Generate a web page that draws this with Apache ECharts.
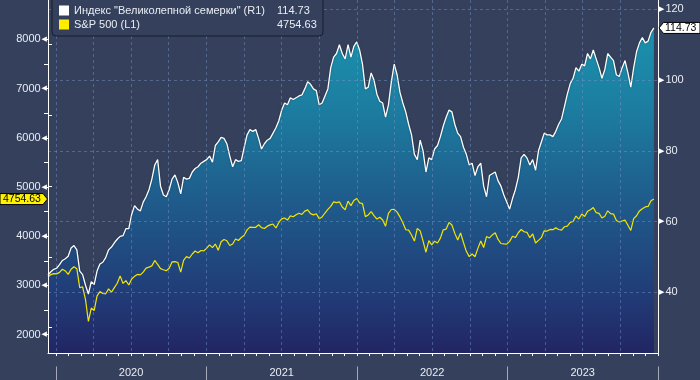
<!DOCTYPE html>
<html><head><meta charset="utf-8">
<script src="https://cdn.jsdelivr.net/npm/echarts@6/dist/echarts.min.js"></script>
<style>html,body{margin:0;padding:0;background:#35415c;}#c{width:700px;height:380px;}</style>
</head><body><div id="c"></div>
<script>
// ---- data ----
const seriesNames = ['Индекс "Великолепной семерки" (R1)', 'S&P 500 (L1)'];
const yearLabels = ['2020', '2021', '2022', '2023'];
const firstWeek = [2019, 11, 13]; // weekly observations (Fridays) starting 13 Dec 2019
const mag7 = [
  44.9, 45.8, 46.5,
  46.8, 47.8, 49.0, 49.5, 50.2, 52.5, 53.2, 52.0, 46.0, 45.0, 42.0, 39.5, 43.0, 42.2, 46.0, 48.0, 48.5, 49.8, 52.0, 52.8, 54.0, 55.0, 55.8, 56.0, 58.0, 58.0, 62.0, 64.5, 63.5, 63.0, 65.5, 67.0, 69.0, 72.0, 76.0, 77.5, 70.0, 67.5, 67.0, 69.0, 72.0, 73.2, 71.0, 67.8, 72.5, 72.0, 72.2, 74.0, 75.0, 75.5, 76.5, 77.0, 77.5,
  78.5, 76.8, 81.5, 82.5, 83.8, 83.5, 82.0, 78.5, 75.5, 77.5, 77.0, 77.2, 81.0, 84.5, 86.0, 85.5, 86.0, 83.5, 80.5, 82.0, 83.0, 83.5, 85.0, 86.5, 88.5, 91.5, 93.5, 93.0, 95.0, 94.5, 95.0, 95.5, 95.8, 97.5, 99.5, 98.8, 97.5, 97.0, 93.0, 93.5, 95.5, 97.5, 103.5, 106.5, 107.5, 110.0, 107.5, 106.0, 110.0, 106.5, 109.5, 110.8,
  108.5, 104.5, 97.5, 98.0, 102.0, 100.0, 96.0, 94.0, 93.5, 89.5, 93.0, 99.5, 104.5, 101.5, 96.5, 93.5, 91.0, 87.5, 84.5, 79.0, 77.5, 83.0, 80.0, 74.0, 78.0, 77.5, 80.5, 81.5, 84.0, 87.0, 89.5, 91.5, 91.0, 87.5, 85.0, 84.0, 81.0, 79.0, 76.0, 76.5, 73.0, 75.5, 76.5, 70.0, 67.0, 73.0, 73.5, 74.0, 71.5, 70.0, 67.5, 65.5,
  63.5, 66.5, 69.0, 72.5, 78.0, 79.0, 78.0, 76.0, 77.5, 74.5, 80.0, 82.5, 85.0, 84.5, 84.5, 84.0, 85.5, 87.5, 89.0, 92.5, 96.0, 99.0, 100.5, 103.5, 102.5, 104.5, 104.0, 107.5, 106.0, 108.5, 106.0, 103.5, 100.5, 103.0, 107.5, 106.5, 105.5, 101.5, 101.0, 103.5, 105.5, 102.0, 98.0, 103.5, 108.0, 110.5, 112.0, 110.5, 111.0, 113.5, 114.73
];
const spx = [
  3168.8, 3221.2, 3240.0,
  3234.9, 3265.4, 3329.6, 3295.5, 3225.5, 3327.7, 3380.2, 3337.8, 2954.2, 2972.4, 2711.0, 2270.0, 2541.5, 2488.7, 2789.8, 2874.6, 2836.7, 2830.7, 2929.8, 2863.7, 2955.5, 3044.3, 3193.9, 3041.3, 3097.7, 3009.1, 3130.0, 3185.0, 3224.7, 3215.6, 3271.1, 3351.3, 3372.9, 3397.2, 3508.0, 3426.9, 3340.9, 3319.5, 3298.5, 3348.4, 3477.1, 3483.8, 3465.4, 3270.0, 3509.4, 3585.2, 3557.5, 3638.4, 3699.1, 3663.5, 3709.4, 3703.1, 3756.1,
  3824.7, 3768.3, 3841.5, 3714.2, 3886.8, 3934.8, 3906.7, 3811.2, 3841.9, 3943.3, 3913.1, 3974.5, 4019.9, 4128.8, 4185.5, 4180.2, 4181.2, 4232.6, 4173.9, 4155.9, 4204.1, 4229.9, 4247.4, 4166.5, 4280.7, 4352.3, 4369.6, 4327.2, 4411.8, 4395.3, 4436.5, 4468.0, 4441.7, 4509.4, 4535.4, 4458.6, 4433.0, 4455.5, 4357.0, 4391.3, 4471.4, 4544.9, 4605.4, 4697.5, 4682.9, 4698.0, 4594.6, 4538.4, 4712.0, 4620.6, 4725.8, 4766.2,
  4677.0, 4662.9, 4397.9, 4431.9, 4500.5, 4418.6, 4348.9, 4384.7, 4328.9, 4204.3, 4463.1, 4543.1, 4545.9, 4488.3, 4392.6, 4271.8, 4131.9, 4123.3, 4023.9, 3901.4, 4158.2, 4108.5, 3900.9, 3674.8, 3911.7, 3825.3, 3899.4, 3863.2, 3961.6, 4130.3, 4145.2, 4280.2, 4228.5, 4057.7, 3924.3, 4067.4, 3873.3, 3693.2, 3585.6, 3639.7, 3583.1, 3752.8, 3901.1, 3770.6, 3992.9, 3965.3, 4026.1, 4071.7, 3934.4, 3852.4, 3844.8, 3839.5,
  3895.1, 3999.1, 3972.6, 4070.6, 4136.5, 4090.5, 4079.1, 3970.0, 4045.6, 3861.6, 3916.6, 3971.0, 4109.3, 4105.0, 4137.6, 4133.5, 4169.5, 4136.3, 4124.1, 4192.0, 4205.5, 4282.4, 4298.9, 4409.6, 4348.3, 4450.4, 4399.0, 4505.4, 4536.3, 4582.2, 4478.0, 4464.1, 4369.7, 4405.7, 4515.8, 4457.5, 4450.3, 4320.1, 4288.1, 4308.5, 4327.8, 4224.2, 4117.4, 4358.3, 4415.2, 4514.0, 4559.3, 4594.6, 4604.4, 4719.2, 4754.63
];
const leftTickRange = [2000, 8500, 500];   // labels every 1000, small ticks every 500
const rightTickRange = [20, 120, 20];
const rightGridRange = [40, 120, 20];

// ---- layout ----
const W = 700, H = 380;
const plotL = 48, plotR = 658, plotT = 0, plotB = 353;
const xMin = Date.UTC(2019, 11, 13), xMax = Date.UTC(2024, 0, 1);
const yearStart = Date.UTC(2020, 0, 1), yearEnd = Date.UTC(2024, 0, 1);
const L = { min: 1628, max: 8798 };
const R = { min: 22.84, max: 122.63 };
const pxX = t => plotL + (t - xMin) / (xMax - xMin) * (plotR - plotL);
const pyL = v => plotB - (v - L.min) / (L.max - L.min) * (plotB - plotT);
const pyR = v => plotB - (v - R.min) / (R.max - R.min) * (plotB - plotT);

const DAY = 86400000;
const t0 = Date.UTC(firstWeek[0], firstWeek[1], firstWeek[2]);
const dates = spx.map((_, i) => t0 + i * 7 * DAY);

const FONT = 'Liberation Sans';
const TXT = '#e9edf3';
const gridDash = { color: 'rgba(125,150,200,0.45)', type: [3, 3], width: 1 };

const chart = echarts.init(document.getElementById('c'), null, { renderer: 'canvas' });
const yL = pyL(spx[spx.length - 1]);
const yR = pyR(mag7[mag7.length - 1]);

const option = {
  backgroundColor: '#35415c',
  animation: false,
  useUTC: true,
  textStyle: { fontFamily: FONT },
  grid: [
    { left: plotL, right: W - plotR, top: plotT, bottom: H - plotB },
    { left: pxX(yearStart), right: W - pxX(yearEnd), top: plotT, bottom: H - plotB },
    { left: plotL, right: W - plotR, top: pyL(leftTickRange[1]), height: pyL(leftTickRange[0]) - pyL(leftTickRange[1]) },
    { left: plotL, right: W - plotR, top: pyR(rightTickRange[1]), height: pyR(rightTickRange[0]) - pyR(rightTickRange[1]) },
    { left: plotL, right: W - plotR, top: pyR(rightGridRange[1]), height: pyR(rightGridRange[0]) - pyR(rightGridRange[1]) },
    { left: pxX(yearStart), right: W - pxX(yearEnd), top: 365.5, height: 1 }
  ],
  xAxis: [
    { type: 'time', gridIndex: 0, min: xMin, max: xMax, z: 6,
      axisLine: { show: true, lineStyle: { color: '#ffffff', width: 1 } },
      axisTick: { show: false }, axisLabel: { show: false }, splitLine: { show: false } },
    { type: 'value', gridIndex: 1, min: 0, max: 48, interval: 3, z: 5,
      axisLine: { show: false },
      axisTick: { show: true, length: 3, lineStyle: { color: '#ffffff' } },
      minorTick: { show: true, splitNumber: 3, length: 3, lineStyle: { color: '#ffffff' } },
      axisLabel: { show: false },
      splitLine: { show: true, lineStyle: gridDash } },
    { type: 'value', gridIndex: 2, show: false },
    { type: 'value', gridIndex: 3, show: false },
    { type: 'value', gridIndex: 4, show: false },
    { type: 'category', gridIndex: 5, data: yearLabels, boundaryGap: true, z: 5,
      axisLine: { show: false },
      axisTick: { show: true, length: 14, lineStyle: { color: '#a3abbb' } },
      axisLabel: { color: TXT, fontSize: 11, fontFamily: FONT, margin: 1 },
      splitLine: { show: false } }
  ],
  yAxis: [
    { type: 'value', gridIndex: 0, position: 'left', min: L.min, max: L.max, z: 6,
      axisLine: { show: true, lineStyle: { color: '#ffffff', width: 1 } },
      axisTick: { show: false }, axisLabel: { show: false }, splitLine: { show: false } },
    { type: 'value', gridIndex: 0, position: 'right', min: R.min, max: R.max, z: 6,
      axisLine: { show: true, lineStyle: { color: '#ffffff', width: 1 } },
      axisTick: { show: false }, axisLabel: { show: false }, splitLine: { show: false } },
    { type: 'value', gridIndex: 1, show: false },
    { type: 'value', gridIndex: 2, position: 'left', min: leftTickRange[0], max: leftTickRange[1], interval: leftTickRange[2], z: 5,
      axisLine: { show: false },
      axisTick: { show: true, length: 4, lineStyle: { color: '#ffffff' } },
      splitLine: { show: false },
      axisLabel: { showMaxLabel: false, showMinLabel: true, margin: 1,
        formatter: v => (v % 1000 === 0 ? '{v|' + v + '}{t|◀}' : ''),
        rich: { v: { color: TXT, fontSize: 11, fontFamily: FONT, padding: [0, 1, 0, 0] },
                t: { color: '#ffffff', fontSize: 7, fontFamily: 'DejaVu Sans' } } } },
    { type: 'value', gridIndex: 3, position: 'right', min: rightTickRange[0], max: rightTickRange[1], interval: rightTickRange[2], z: 5,
      axisLine: { show: false }, axisTick: { show: false },
      minorTick: { show: true, splitNumber: 2, length: 4, lineStyle: { color: '#ffffff' } },
      splitLine: { show: false },
      axisLabel: { showMinLabel: false, margin: 1,
        formatter: v => '{t|▶}{v|' + v + '}',
        rich: { v: { color: TXT, fontSize: 11, fontFamily: FONT, padding: [0, 0, 0, 1] },
                t: { color: '#ffffff', fontSize: 7, fontFamily: 'DejaVu Sans' } } } },
    { type: 'value', gridIndex: 4, position: 'right', min: rightGridRange[0], max: rightGridRange[1], interval: rightGridRange[2], z: 5,
      axisLine: { show: false }, axisTick: { show: false }, axisLabel: { show: false },
      splitLine: { show: true, lineStyle: gridDash } },
    { type: 'value', gridIndex: 5, show: false }
  ],
  legend: {
    left: 52, top: -6, orient: 'vertical', z: 20,
    padding: [10, 6, 5, 7], itemWidth: 10, itemHeight: 10, itemGap: 1,
    icon: 'rect', selectedMode: false,
    backgroundColor: '#35415c', borderColor: '#161c2a', borderWidth: 1, borderRadius: 4,
    data: [
      { name: seriesNames[0], itemStyle: { color: '#ffffff' } },
      { name: seriesNames[1], itemStyle: { color: '#ffee00' } }
    ],
    formatter: name => {
      const v = name === seriesNames[0] ? mag7[mag7.length - 1].toFixed(2) : spx[spx.length - 1].toFixed(2);
      return '{n|' + name + '}{v|' + v + '}';
    },
    textStyle: { color: TXT, fontSize: 11, fontFamily: FONT, lineHeight: 13,
      rich: { n: { width: 203, color: TXT, fontSize: 11, fontFamily: FONT },
              v: { width: 40, color: TXT, fontSize: 11, fontFamily: FONT } } }
  },
  series: [
    { name: seriesNames[0], type: 'line', xAxisIndex: 0, yAxisIndex: 1, z: 2,
      data: dates.map((d, i) => [d, mag7[i]]),
      showSymbol: false, symbol: 'none',
      lineStyle: { color: '#ffffff', width: 1.3, shadowColor: 'rgba(0,0,0,0.35)', shadowBlur: 2 },
      itemStyle: { color: '#ffffff' },
      areaStyle: { opacity: 1, origin: 'start',
        color: new echarts.graphic.LinearGradient(0, plotT, 0, plotB, [
          { offset: 0, color: '#1a98b2' },
          { offset: 0.3, color: '#1c7ea1' },
          { offset: 0.58, color: '#1f5a8b' },
          { offset: 0.85, color: '#213a76' },
          { offset: 1, color: '#222563' }
        ], true) } },
    { name: seriesNames[1], type: 'line', xAxisIndex: 0, yAxisIndex: 0, z: 3,
      data: dates.map((d, i) => [d, spx[i]]),
      showSymbol: false, symbol: 'none',
      lineStyle: { color: '#f3e600', width: 1.2 },
      itemStyle: { color: '#ffee00' } }
  ],
  graphic: [
    { type: 'polygon', z: 30, shape: { points: [[0, yL - 5.5], [43, yL - 5.5], [47.5, yL], [43, yL + 5.5], [0, yL + 5.5]] },
      style: { fill: '#fff200', stroke: '#000000', lineWidth: 1 } },
    { type: 'text', z: 31, x: 3, y: yL + 0.5,
      style: { text: spx[spx.length - 1].toFixed(2), fill: '#000000', fontSize: 10.5, fontFamily: FONT, verticalAlign: 'middle', align: 'left' } },
    { type: 'polygon', z: 30, shape: { points: [[659, yR], [663.5, yR - 5.5], [700, yR - 5.5], [700, yR + 5.5], [663.5, yR + 5.5]] },
      style: { fill: '#ffffff', stroke: '#000000', lineWidth: 1 } },
    { type: 'text', z: 31, x: 665, y: yR + 0.5,
      style: { text: mag7[mag7.length - 1].toFixed(2), fill: '#000000', fontSize: 10.5, fontFamily: FONT, verticalAlign: 'middle', align: 'left' } }
  ]
};
chart.setOption(option);
</script></body></html>
